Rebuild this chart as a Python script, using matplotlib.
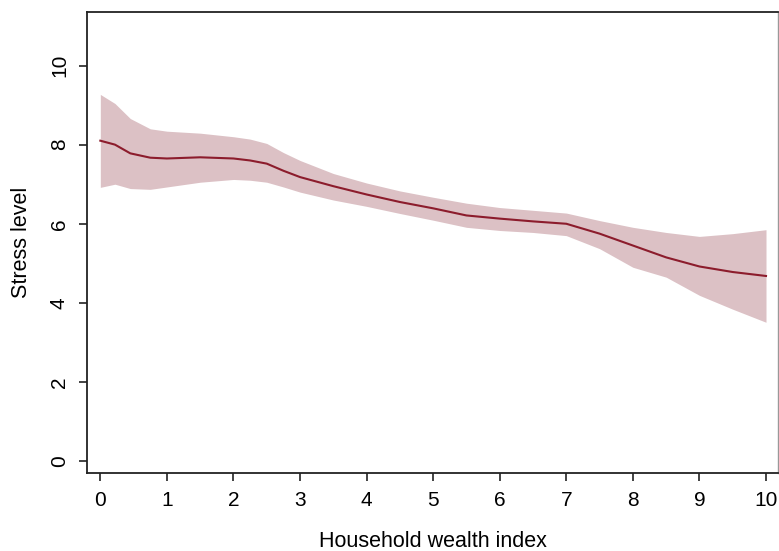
import numpy as np
import matplotlib.pyplot as plt

plt.rcParams['font.family'] = ['Liberation Sans', 'DejaVu Sans']

# smoothed stress level by wealth index, with confidence band
wealth = [0, 0.22, 0.45, 0.75, 1, 1.5, 2, 2.25, 2.5, 2.75, 3, 3.5, 4, 4.5,
          5, 5.5, 6, 6.5, 7, 7.5, 8, 8.5, 9, 9.5, 10]
stress = [8.1, 8.0, 7.78, 7.67, 7.65, 7.68, 7.65, 7.6, 7.52, 7.34, 7.18,
          6.95, 6.74, 6.55, 6.39, 6.21, 6.13, 6.06, 6.0, 5.75, 5.45, 5.15,
          4.92, 4.78, 4.68]
upper = [9.27, 9.04, 8.66, 8.4, 8.34, 8.29, 8.2, 8.14, 8.03, 7.8, 7.6,
         7.27, 7.03, 6.83, 6.67, 6.52, 6.41, 6.34, 6.27, 6.08, 5.91, 5.78,
         5.68, 5.75, 5.85]
lower = [6.92, 7.0, 6.89, 6.87, 6.93, 7.05, 7.12, 7.1, 7.05, 6.93, 6.8,
         6.6, 6.44, 6.26, 6.09, 5.91, 5.83, 5.78, 5.7, 5.37, 4.9, 4.65,
         4.19, 3.84, 3.51]

fig = plt.figure(figsize=(7.79, 5.51), dpi=100)
ax = fig.add_axes([0.1117, 0.1416, 0.887, 0.8364])

ax.fill_between(wealth, lower, upper, color='#dcc1c5', linewidth=0)
ax.plot(wealth, stress, color='#8c1c2c', linewidth=1.5)

ax.set_xlim(-0.2, 10.18)
ax.set_ylim(-0.3, 11.35)
ax.set_xticks(np.arange(0, 11, 1))
ax.set_yticks(np.arange(0, 11, 2))
ax.tick_params(axis='both', labelsize=15, length=6, width=1.2, pad=7, color='#222222')
for lab in ax.get_yticklabels():
    lab.set_rotation(90)
    lab.set_va('center')

for side in ['left', 'bottom', 'top']:
    ax.spines[side].set_linewidth(1.3)
    ax.spines[side].set_color('#222222')
ax.spines['right'].set_linewidth(1.0)
ax.spines['right'].set_color('#999999')

ax.set_xlabel('Household wealth index', fontsize=15.5, labelpad=15)
ax.set_ylabel('Stress level', fontsize=15.5, labelpad=13)

fig.savefig('out.png', dpi=100)
